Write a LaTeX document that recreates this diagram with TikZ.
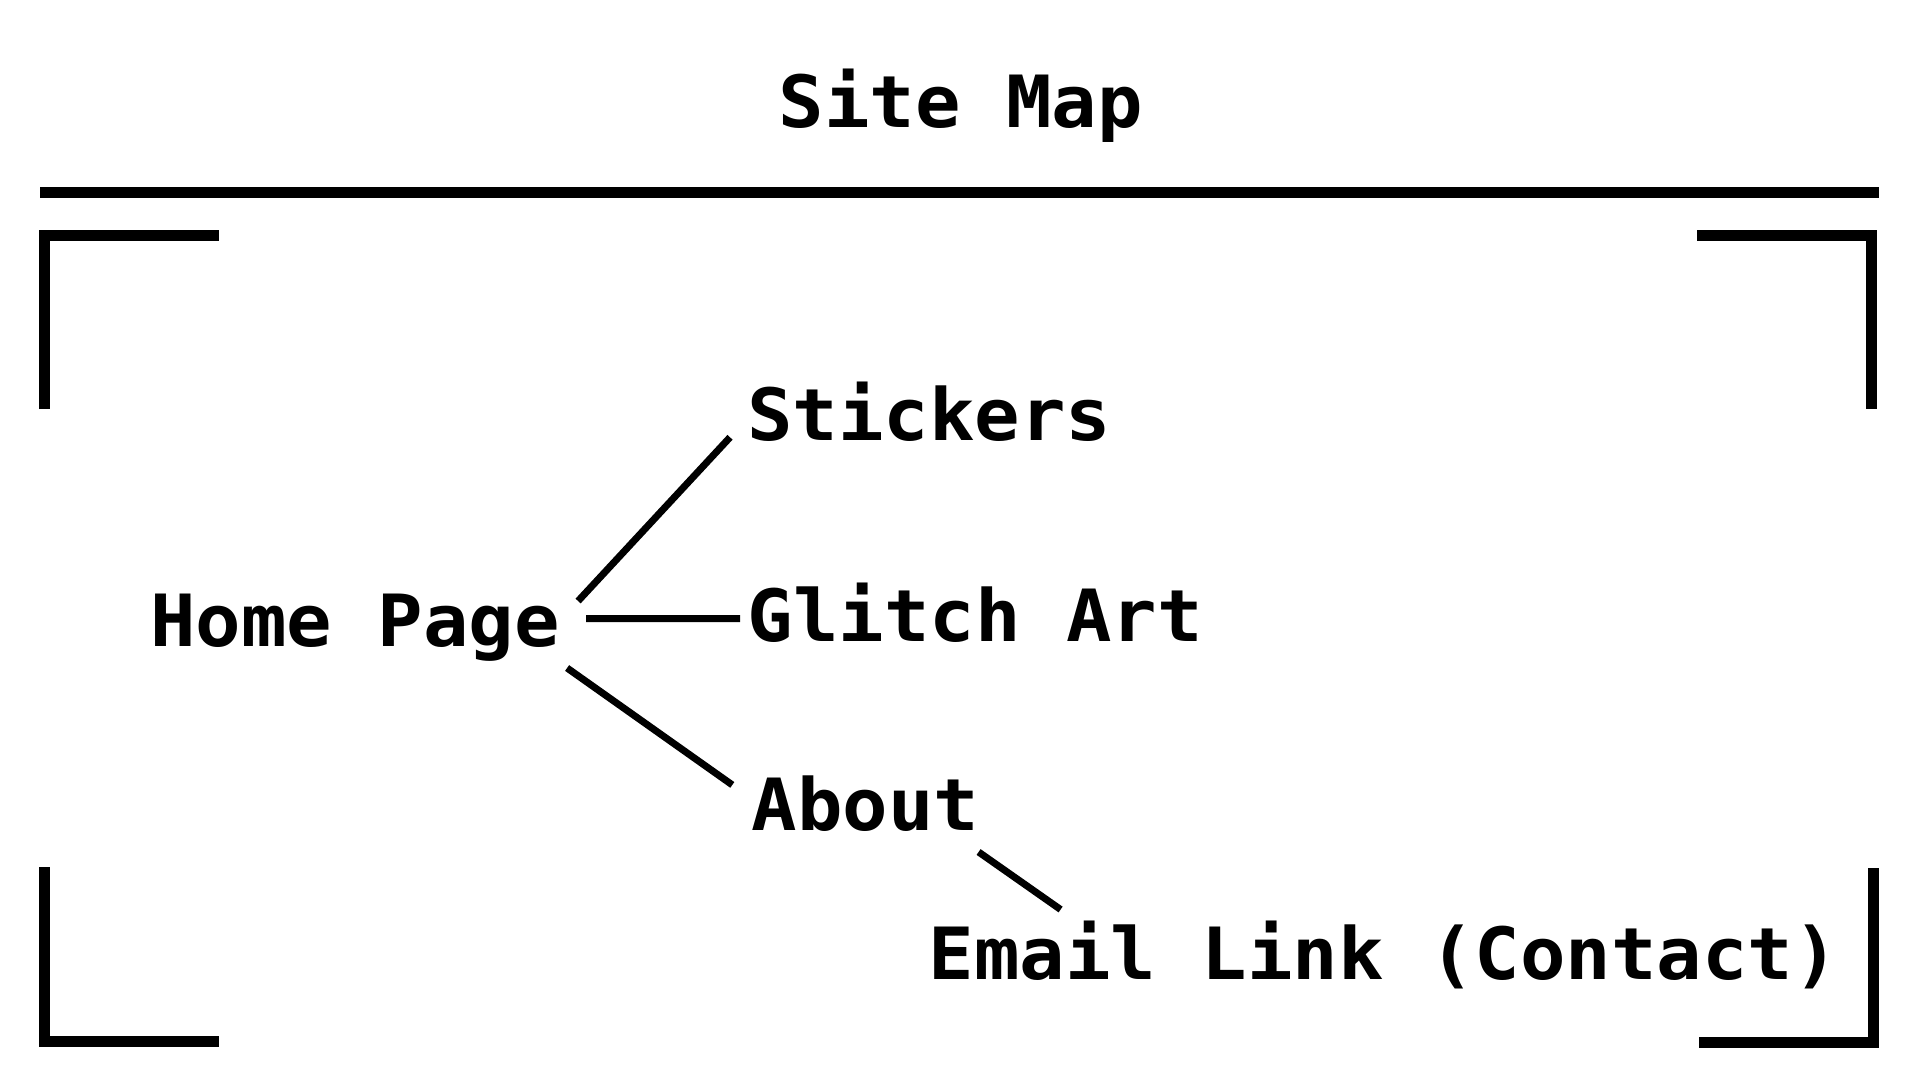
\documentclass[tikz,border=0pt]{standalone}
\usepackage{fontspec}
\newfontfamily\pixfont[FakeStretch=1.05]{DejaVu Sans Mono Bold}
\usetikzlibrary{calc}
\begin{document}
\begin{tikzpicture}[x=1pt,y=-1pt,
  lbl/.style={anchor=base,inner sep=0pt,font=\pixfont\fontsize{72}{80}\selectfont},
  conn/.style={line width=7pt},
  frame/.style={line width=11pt,line cap=butt,line join=miter}]
\useasboundingbox[fill=white] (0,0) rectangle (1920,1080);
% title and rule
\node[lbl] (title) at (960.6,127.3) {Site Map};
\coordinate (ruleL) at (40,192.2);
\coordinate (ruleR) at (1879,192.2);
\draw[frame] (ruleL) -- (ruleR);
% corner brackets
\draw[frame] (44.5,409) -- (44.5,235.5) -- (219,235.5);
\draw[frame] (1697,235.5) -- (1871.5,235.5) -- (1871.5,409);
\draw[frame] (44.5,867) -- (44.5,1041.5) -- (219,1041.5);
\draw[frame] (1699,1042.5) -- (1873,1042.5) -- (1873,867.5);
% nodes
\node[lbl] (home) at (355.1,646.5) {Home Page};
\node[lbl] (stickers) at (929.4,440.8) {Stickers};
\node[lbl] (glitch) at (975.3,641.6) {Glitch Art};
\node[lbl] (about) at (865.7,830.2) {About};
\node[lbl] (email) at (1383.7,979.6) {Email Link (Contact)};
% connectors
\draw[conn] ($(home.base)+(223,-45.5)$) -- ($(stickers.base)+(-199.4,-3.5)$);
\draw[conn] ($(home.base)+(231,-28)$) -- ($(glitch.base)+(-235.3,-23)$);
\draw[conn] ($(home.base)+(212,21.5)$) -- ($(about.base)+(-133.4,-45.3)$);
\draw[conn] ($(about.base)+(112.9,21.8)$) -- ($(email.base)+(-323.1,-70.1)$);
\end{tikzpicture}
\end{document}
